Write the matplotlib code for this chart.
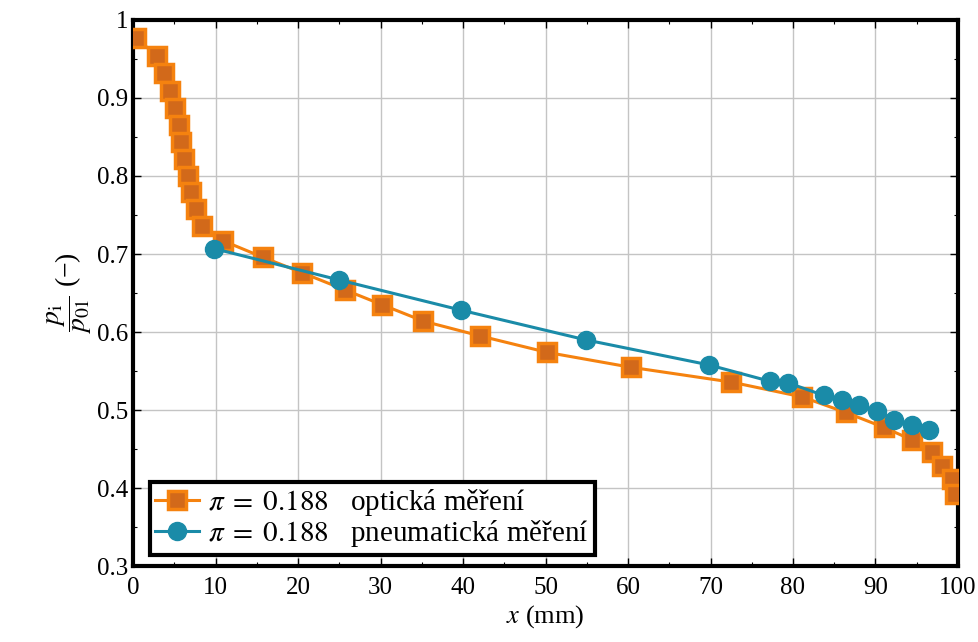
import numpy as np
import matplotlib.pyplot as plt
from matplotlib.ticker import MultipleLocator

plt.rcParams['font.family'] = ['Liberation Serif', 'DejaVu Serif']
plt.rcParams['mathtext.fontset'] = 'stix'

# optical measurement
x_opt = [0.3, 2.9, 3.8, 4.5, 5.1, 5.5, 5.8, 6.2, 6.6, 7.0, 7.6, 8.4, 10.9, 15.7, 20.5,
         25.7, 30.2, 35.2, 42.1, 50.2, 60.3, 72.5, 81.1, 86.4, 91.0, 94.4, 96.8,
         98.1, 99.3, 99.6]
y_opt = [0.977, 0.954, 0.932, 0.909, 0.887, 0.865, 0.844, 0.822, 0.800, 0.779, 0.758,
         0.736, 0.717, 0.696, 0.676, 0.654, 0.635, 0.614, 0.595, 0.574, 0.555, 0.536,
         0.517, 0.497, 0.478, 0.462, 0.446, 0.428, 0.412, 0.392]

# pneumatic measurement
x_pn = [9.8, 24.9, 39.8, 54.9, 69.8, 77.2, 79.4, 83.7, 85.9, 88.0, 90.2, 92.2, 94.4, 96.5]
y_pn = [0.707, 0.667, 0.628, 0.590, 0.558, 0.537, 0.535, 0.519, 0.513, 0.506, 0.499,
        0.488, 0.481, 0.474]

lbl_opt = r'$\pi\;=\;0.188$   optická měření'
lbl_pn = r'$\pi\;=\;0.188$   pneumatická měření'

fig = plt.figure(figsize=(9.79, 6.42), dpi=100)
ax = fig.add_axes([0.136, 0.118, 0.9785 - 0.136, 0.969 - 0.118])

orange = '#f5820f'
teal = '#1a8ba8'

ax.plot(x_opt, y_opt, '-s', color=orange, lw=2.2, ms=13, mfc='#d2691a', mec=orange,
        mew=2.5, label=lbl_opt, zorder=3)
ax.plot(x_pn, y_pn, '-o', color=teal, lw=2.2, ms=13, mfc=teal, mec=teal,
        label=lbl_pn, zorder=4)

ax.set_xlim(0, 100)
ax.set_ylim(0.3, 1.0)
ax.xaxis.set_major_locator(MultipleLocator(10))
ax.xaxis.set_minor_locator(MultipleLocator(5))
ax.yaxis.set_minor_locator(MultipleLocator(0.05))
ax.set_yticks([0.3, 0.4, 0.5, 0.6, 0.7, 0.8, 0.9, 1.0])
ax.set_yticklabels(['0.3', '0.4', '0.5', '0.6', '0.7', '0.8', '0.9', '1'])

ax.grid(True, which='major', color='#c4c4c4', lw=1)
ax.set_axisbelow(True)
for s in ax.spines.values():
    s.set_linewidth(3)
ax.tick_params(which='both', direction='in', top=True, right=True, labelsize=18)
ax.tick_params(which='major', length=6, width=1)
ax.tick_params(which='minor', length=3, width=0.8)
ax.tick_params(axis='x', pad=8)

ax.set_xlabel(r'$x$ (mm)', fontsize=19, labelpad=3)
ax.set_ylabel(r'$\dfrac{p_\mathrm{i}}{p_{01}}$ (−)', fontsize=20, labelpad=2)

leg = ax.legend(loc='lower left', bbox_to_anchor=(0.02, 0.02), fontsize=21,
                frameon=True, fancybox=False, handlelength=1.5, handletextpad=0.3,
                borderpad=0.2, labelspacing=0.0, borderaxespad=0)
leg.get_frame().set_edgecolor('black')
leg.get_frame().set_linewidth(3)
leg.get_frame().set_alpha(1)

fig.savefig('out.png', dpi=100)
